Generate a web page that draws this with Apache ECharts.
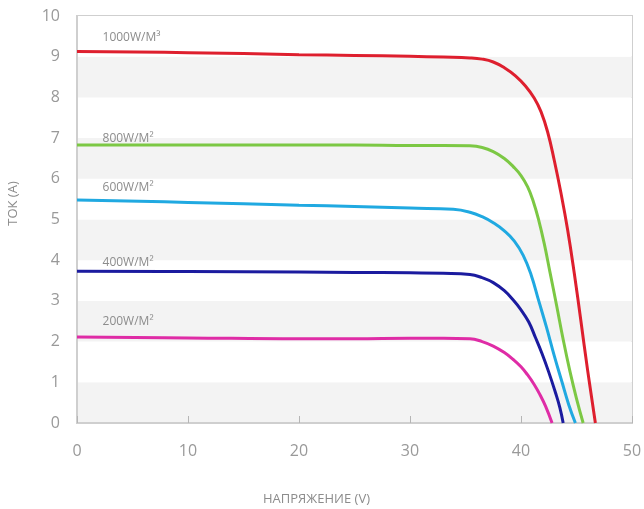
<!DOCTYPE html>
<html>
<head>
<meta charset="utf-8">
<script src="https://cdn.jsdelivr.net/npm/echarts@6/dist/echarts.min.js"></script>
<style>
html, body { margin: 0; padding: 0; background: #fff; }
#ivChart { width: 644px; height: 509px; }
</style>
</head>
<body>
<div id="ivChart"></div>
<script>
// I-V curves, [voltage, current]
var irr1000 = [[0, 9.13], [10, 9.1], [20, 9.05], [25, 9.03], [30, 9.01], [33, 8.99], [35.4, 8.97], [36.5, 8.94], [37.5, 8.87], [38.5, 8.73], [39.5, 8.53], [40.4, 8.28], [41.2, 7.98], [41.8, 7.65], [42.4, 7.15], [43.0, 6.45], [43.6, 5.65], [44.2, 4.75], [44.8, 3.68], [45.4, 2.5], [46.0, 1.3], [46.7, 0]];
var irr800 = [[0, 6.83], [10, 6.83], [20, 6.83], [25, 6.83], [30, 6.82], [33, 6.82], [35.4, 6.81], [36.5, 6.77], [37.5, 6.67], [38.5, 6.5], [39.3, 6.3], [40.0, 6.08], [40.6, 5.8], [41.1, 5.45], [41.6, 4.98], [42.1, 4.4], [42.6, 3.72], [43.2, 2.9], [43.8, 2.05], [44.4, 1.28], [45.0, 0.6], [45.6, 0]];
var irr600 = [[0, 5.48], [10, 5.42], [20, 5.35], [25, 5.32], [30, 5.28], [33.9, 5.25], [35.4, 5.18], [36.5, 5.07], [37.5, 4.92], [38.5, 4.72], [39.4, 4.47], [40.2, 4.12], [40.9, 3.65], [41.6, 3.0], [42.3, 2.35], [43.0, 1.65], [43.7, 1.0], [44.3, 0.45], [44.9, 0]];
var irr400 = [[0, 3.73], [10, 3.72], [20, 3.71], [25, 3.7], [30, 3.69], [33, 3.68], [35.4, 3.65], [36.5, 3.57], [37.5, 3.45], [38.5, 3.25], [39.3, 3.02], [40.0, 2.78], [40.7, 2.48], [41.3, 2.1], [41.9, 1.7], [42.5, 1.25], [43.1, 0.75], [43.5, 0.38], [43.8, 0]];
var irr200 = [[0, 2.11], [10, 2.09], [20, 2.07], [25, 2.07], [30, 2.08], [33, 2.08], [35.4, 2.07], [36.5, 2.0], [37.5, 1.89], [38.5, 1.73], [39.3, 1.56], [40.0, 1.38], [40.6, 1.18], [41.2, 0.94], [41.7, 0.7], [42.2, 0.42], [42.8, 0]];

var curveNames = ['1000W/M³', '800W/M²', '600W/M²', '400W/M²', '200W/M²'];
var curveData = [irr1000, irr800, irr600, irr400, irr200];
var curveColors = ['#de1f2e', '#7cc844', '#20a9e1', '#1b1b9f', '#df2ca6'];
var labelLift = [14, 6, 12, 9, 16];
var labelX = 2.3;

var series = [];
for (var i = 0; i < curveData.length; i++) {
  series.push({
    name: curveNames[i],
    type: 'line',
    data: curveData[i],
    smooth: 0.45,
    showSymbol: false,
    lineStyle: { color: curveColors[i], width: 3 },
    z: 3 + i,
    markPoint: {
      symbol: 'circle',
      symbolSize: 0,
      silent: true,
      label: {
        show: true,
        position: 'right',
        distance: 0,
        offset: [0, -labelLift[i]],
        formatter: curveNames[i],
        color: '#8c8c8c',
        fontSize: 12,
        fontFamily: 'Open Sans'
      },
      data: [{ coord: [labelX, curveData[i][0][1]] }]
    }
  });
}

var chart = echarts.init(document.getElementById('ivChart'));
chart.setOption({
  animation: false,
  backgroundColor: '#fff',
  grid: {
    left: 77, right: 12, top: 16, bottom: 86,
    outerBoundsMode: 'none',
    containLabel: false,
    show: true,
    borderColor: '#cfcfcf',
    borderWidth: 2
  },
  xAxis: {
    type: 'value',
    min: 0, max: 50, interval: 10,
    name: 'НАПРЯЖЕНИЕ (V)',
    nameLocation: 'middle',
    nameGap: 70,
    nameTextStyle: { color: '#8c8c8c', fontSize: 13, fontFamily: 'Open Sans', padding: [0, 76, 0, 0] },
    axisLine: { lineStyle: { color: '#cfcfcf', width: 2 } },
    axisTick: { show: true, inside: true, length: 7, lineStyle: { color: '#b5b5b5' } },
    axisLabel: { color: '#999', fontSize: 16, margin: 20, fontFamily: 'Open Sans' },
    splitLine: { show: false }
  },
  yAxis: {
    type: 'value',
    min: 0, max: 10, interval: 1,
    name: 'ТОК (А)',
    nameLocation: 'middle',
    nameGap: 57,
    nameTextStyle: { color: '#8c8c8c', fontSize: 13, fontFamily: 'Open Sans', padding: [0, 0, 0, 32] },
    axisLine: { show: true, lineStyle: { color: '#cfcfcf', width: 2 } },
    axisTick: { show: false },
    axisLabel: { color: '#999', fontSize: 16, margin: 17, fontFamily: 'Open Sans' },
    splitLine: { show: false },
    splitArea: { show: true, areaStyle: { color: ['#f3f3f3', '#ffffff'] } }
  },
  series: series
});
</script>
</body>
</html>
